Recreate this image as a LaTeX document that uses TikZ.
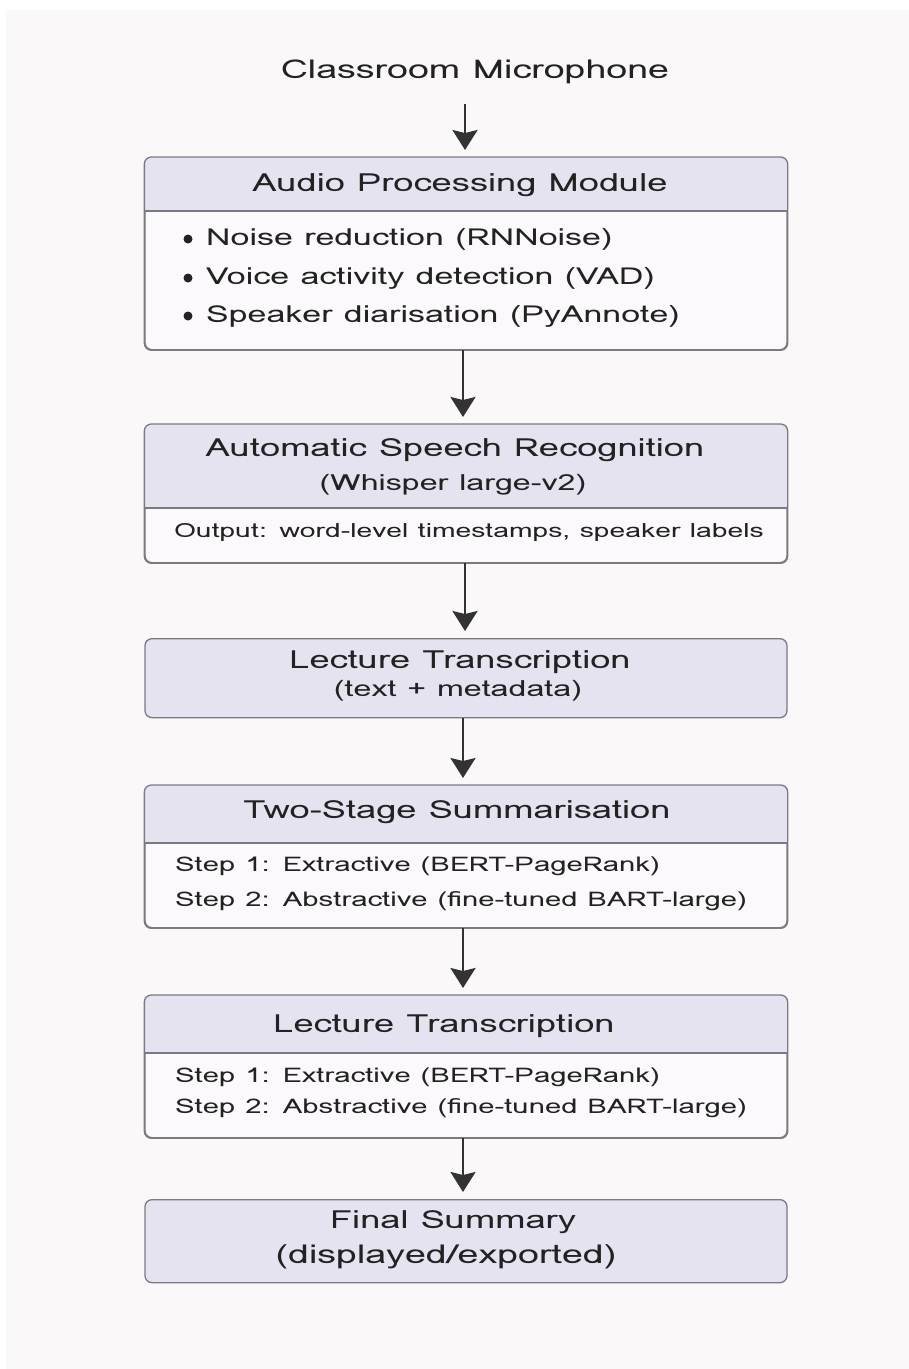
\documentclass[tikz,border=0pt]{standalone}
\usepackage{fontspec}
\setmainfont{Loma}[FakeStretch=1.45]
\usetikzlibrary{arrows.meta}
\definecolor{bgc}{HTML}{FBF8FA}
\definecolor{hdr}{HTML}{E4E3EF}
\definecolor{bodyc}{HTML}{FBF9FB}
\definecolor{edge}{HTML}{7A7A80}
\definecolor{ink}{HTML}{222222}
\definecolor{arr}{HTML}{333333}
\tikzset{
  boxshape/.style={draw=edge, line width=1.3pt, rounded corners=7pt, fill=bodyc, minimum width=642pt, inner sep=0pt},
  hdrbox/.style={boxshape, fill=hdr},
  ttl/.style={font=\fontsize{25}{30}\selectfont, text=ink, inner sep=0pt},
  sub/.style={font=\fontsize{22.2}{26}\selectfont, text=ink, inner sep=0pt},
  itm/.style={font=\fontsize{23.4}{28}\selectfont, text=ink, inner sep=0pt, anchor=west},
  dot/.style={circle, fill=ink, inner sep=0pt, minimum size=9pt},
  stp/.style={font=\fontsize{20.2}{24}\selectfont, text=ink, inner sep=0pt, anchor=west},
  flow/.style={draw=arr, line width=2.6pt, shorten >=7pt, -{Stealth[length=20pt,width=25pt,inset=3pt]}},
  divl/.style={draw=edge, line width=1.1pt}
}
\newcommand{\hdrfill}[2]{%
  \begin{scope}
    \clip[rounded corners=7pt] (#1.north west) rectangle (#1.south east);
    \fill[hdr] (#1.north west) rectangle ([yshift=-#2]#1.north east);
  \end{scope}
  \draw[divl] ([yshift=-#2]#1.north west) -- ([yshift=-#2]#1.north east);
  \draw[draw=edge, line width=1.3pt, rounded corners=7pt] (#1.north west) rectangle (#1.south east);
}
\begin{document}
\begin{tikzpicture}[x=1pt,y=-1pt]
\useasboundingbox (0,0) rectangle (909,1369);
\fill[white] (0,0) rectangle (909,1369);
\fill[bgc] (6,10) rectangle (909,1369);

% source
\node[font=\fontsize{25.9}{30}\selectfont, text=ink, inner sep=0pt] (mic) at (475,72) {Classroom Microphone};

% box 1
\node[boxshape, minimum height=192pt, anchor=north] (b1) at (466,157) {};
\hdrfill{b1}{54pt}
\node[ttl] (b1t) at (460,185) {Audio Processing Module};
\node[dot] (d1) at (188,239) {};
\node[dot] (d2) at (188,278) {};
\node[dot] (d3) at (188,316) {};
\node[itm] (b1a) at (206,239) {Noise reduction (RNNoise)};
\node[itm] (b1b) at (206,278) {Voice activity detection (VAD)};
\node[itm] (b1c) at (206,316) {Speaker diarisation (PyAnnote)};

% box 2
\node[boxshape, minimum height=138pt, anchor=north] (b2) at (466,424) {};
\hdrfill{b2}{84pt}
\node[ttl] (b2t) at (455,450) {Automatic Speech Recognition};
\node[sub] (b2s) at (453,485) {(Whisper large-v2)};
\node[font=\fontsize{19.5}{22}\selectfont, text=ink, inner sep=0pt] (b2o) at (469,533) {Output: word-level timestamps, speaker labels};

% box 3
\node[hdrbox, minimum height=79pt, anchor=north] (b3) at (466,638) {};
\node[ttl] (b3t) at (460,662) {Lecture Transcription};
\node[sub] (b3s) at (458,691) {(text + metadata)};

% box 4
\node[boxshape, minimum height=142pt, anchor=north] (b4) at (466,785) {};
\hdrfill{b4}{58pt}
\node[ttl] (b4t) at (457,812) {Two-Stage Summarisation};
\node[stp] (b4a) at (175,866) {Step 1: Extractive (BERT-PageRank)};
\node[stp] (b4b) at (175,901) {Step 2: Abstractive (fine-tuned BART-large)};

% box 5
\node[boxshape, minimum height=142pt, anchor=north] (b5) at (466,995) {};
\hdrfill{b5}{58pt}
\node[ttl] (b5t) at (444,1026) {Lecture Transcription};
\node[stp] (b5a) at (175,1077) {Step 1: Extractive (BERT-PageRank)};
\node[stp] (b5b) at (175,1108) {Step 2: Abstractive (fine-tuned BART-large)};

% box 6
\node[hdrbox, minimum height=83pt, anchor=north] (b6) at (466,1199) {};
\node[ttl] (b6t) at (453,1222) {Final Summary};
\node[font=\fontsize{25.9}{30}\selectfont, text=ink, inner sep=0pt] (b6s) at (446,1257) {(displayed/exported)};

% arrows
\coordinate (m0) at (465,104);
\draw[flow] (m0) -- (b1.north -| m0);
\draw[flow] (b1.south -| 463,0) -- (b2.north -| 463,0);
\draw[flow] (b2.south -| 465,0) -- (b3.north -| 465,0);
\draw[flow] (b3.south -| 463,0) -- (b4.north -| 463,0);
\draw[flow] (b4.south -| 463,0) -- (b5.north -| 463,0);
\draw[flow] (b5.south -| 463,0) -- (b6.north -| 463,0);
\end{tikzpicture}
\end{document}
